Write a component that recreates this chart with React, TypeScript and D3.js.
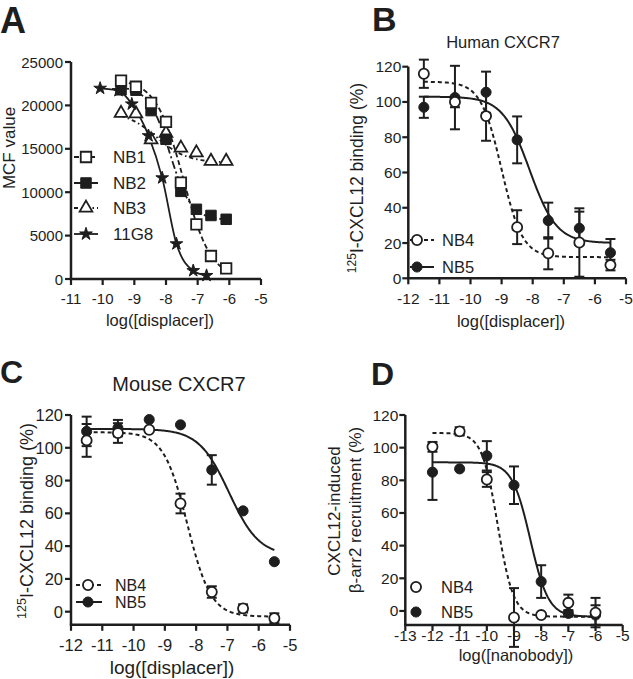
import React from 'react';
import * as d3 from 'd3';

const FONT = "'Liberation Sans', Arial, Helvetica, sans-serif";
const INK = '#1e1e1e';

// ---------------- Panel A data ----------------
const A_X_TICKS = [-11, -10, -9, -8, -7, -6, -5];
const A_Y_TICKS = [0, 5000, 10000, 15000, 20000, 25000];
const A_DOSE = [-9.42, -8.95, -8.47, -8.0, -7.53, -7.04, -6.58, -6.1];
const A_NB1 = [22850, 22150, 20300, 18100, 11100, 6300, 2650, 1220];
const A_NB2 = [21800, 21750, 19400, 16100, 10100, 8030, 7320, 6880];
const A_NB3 = [19100, 19050, 16050, 16800, 15100, 14550, 13580, 13580];
const A_DOSE_11G8 = [-10.08, -9.5, -9.08, -8.55, -8.12, -7.67, -7.14, -6.72];
const A_11G8 = [21970, 21700, 20160, 16500, 11650, 4050, 960, 400];
// fitted curve parameters: top, bottom, logIC50, hill
const A_FIT_NB1 = [23000, 0, -7.45, 1.0];
const A_FIT_NB2 = [22200, 6800, -7.88, 1.3];
const A_FIT_NB3 = [19300, 13400, -8.3, 0.9];
const A_LEGEND = ['NB1', 'NB2', 'NB3', '11G8'];

// ---------------- Panel B data ----------------
const B_X_TICKS = [-12, -11, -10, -9, -8, -7, -6, -5];
const B_Y_TICKS = [0, 20, 40, 60, 80, 100, 120];
const B_DOSE = [-11.5, -10.5, -9.5, -8.5, -7.5, -6.5, -5.5];
const B_NB4 = [116, 100, 92, 29, 14.2, 20.3, 7.5];
const B_NB4_ERR = [8, 3, 14, 9.6, 9.1, 19.4, 3];
const B_NB5 = [97, 102.5, 105.5, 78.5, 32.7, 28.4, 14.5];
const B_NB5_ERR = [6, 18, 11.7, 13.3, 10.2, 9.4, 7.8];
const B_FIT_NB4 = [111.5, 12, -9.0, 1.3];
const B_FIT_NB5 = [103, 20, -8.1, 1.0];

// ---------------- Panel C data ----------------
const C_X_TICKS = [-12, -11, -10, -9, -8, -7, -6, -5];
const C_Y_TICKS = [0, 20, 40, 60, 80, 100, 120];
const C_DOSE = [-11.5, -10.5, -9.5, -8.5, -7.5, -6.5, -5.5];
const C_NB4 = [104.5, 109, 111, 66, 12, 2, -4];
const C_NB4_ERR = [10, 6, 0, 6, 3.5, 2.5, 3];
const C_NB5 = [110, 112, 117.2, 114, 86.5, 61.5, 30.5];
const C_NB5_ERR = [9, 5, 0, 0, 9, 0, 0];
const C_FIT_NB4 = [109.5, -3, -8.28, 1.15];
const C_FIT_NB5 = [111.5, 34, -6.95, 0.9];

// ---------------- Panel D data ----------------
const D_X_TICKS = [-13, -12, -11, -10, -9, -8, -7, -6, -5];
const D_Y_TICKS = [0, 20, 40, 60, 80, 100, 120];
const D_DOSE = [-12, -11, -10, -9, -8, -7, -6];
const D_NB4 = [100.5, 110, 80.5, -4, -2.5, 5, -1];
const D_NB4_ERR = [3, 2.5, 4.5, 18, 1, 5, 9];
const D_NB5 = [85, 87, 95, 77, 18, -1.5, -2.5];
const D_NB5_ERR = [17, 0, 9, 11.5, 10, 2, 6];
const D_FIT_NB4 = [109, -3.5, -9.6, 1.5];
const D_FIT_NB5 = [91, -3.5, -8.4, 1.3];

function sigmoid(p: number[], x: number) {
  const [top, bottom, ic50, hill] = p;
  return bottom + (top - bottom) / (1 + Math.pow(10, (x - ic50) * hill));
}

function fitPath(xs: any, ys: any, p: number[], x0: number, x1: number) {
  const n = 200;
  const pts = d3.range(n + 1).map((i) => {
    const v = x0 + ((x1 - x0) * i) / n;
    return [v, sigmoid(p, v)] as [number, number];
  });
  return d3.line<[number, number]>().x((d) => xs(d[0])).y((d) => ys(d[1]))(pts) || '';
}

const SYMS: Record<string, any> = {
  sqOpen: d3.symbol().type(d3.symbolSquare).size(110)(),
  sqFill: d3.symbol().type(d3.symbolSquare).size(110)(),
  triOpen: d3.symbol().type(d3.symbolTriangle).size(70)(),
  star: d3.symbol().type(d3.symbolStar).size(50)(),
  circOpen: d3.symbol().type(d3.symbolCircle).size(80)(),
  circFill: d3.symbol().type(d3.symbolCircle).size(80)(),
};

function Marker({ kind, x, y }: { kind: string; x: number; y: number }) {
  const open = kind.endsWith('Open');
  return (
    <path
      d={SYMS[kind]}
      transform={`translate(${x},${y})`}
      fill={open ? '#fff' : INK}
      stroke={INK}
      strokeWidth={open ? 1.8 : 1}
    />
  );
}

function Axes({ xs, ys, xTicks, yTicks, fs, xLabY, yLabGap }: any) {
  const [x0, x1] = xs.range();
  const [yb, yt] = ys.range();
  return (
    <g stroke={INK} fill="none">
      <line x1={x0} x2={x0} y1={yb} y2={yt} strokeWidth={2.5} />
      <line x1={x0 - 1.2} x2={x1} y1={yb} y2={yb} strokeWidth={2.5} />
      {xTicks.map((t: number) => (
        <g key={'x' + t}>
          <line x1={xs(t)} x2={xs(t)} y1={yb} y2={yb + 6} strokeWidth={2.2} />
          <text x={xs(t)} y={xLabY} textAnchor="middle" dominantBaseline="central" fill={INK} stroke="none" fontSize={fs} fontFamily={FONT}>
            {t}
          </text>
        </g>
      ))}
      {yTicks.map((t: number) => (
        <g key={'y' + t}>
          <line x1={x0 - 6} x2={x0} y1={ys(t)} y2={ys(t)} strokeWidth={2.2} />
          <text x={x0 - yLabGap} y={ys(t)} textAnchor="end" dominantBaseline="central" fill={INK} stroke="none" fontSize={fs} fontFamily={FONT}>
            {t}
          </text>
        </g>
      ))}
    </g>
  );
}

function ErrBars({ xs, ys, dose, vals, errs }: any) {
  return (
    <g stroke={INK} strokeWidth={2}>
      {dose.map((d: number, i: number) =>
        errs[i] > 0 ? (
          <g key={i}>
            <line x1={xs(d)} x2={xs(d)} y1={ys(vals[i] - errs[i])} y2={ys(vals[i] + errs[i])} />
            <line x1={xs(d) - 5} x2={xs(d) + 5} y1={ys(vals[i] - errs[i])} y2={ys(vals[i] - errs[i])} />
            <line x1={xs(d) - 5} x2={xs(d) + 5} y1={ys(vals[i] + errs[i])} y2={ys(vals[i] + errs[i])} />
          </g>
        ) : null
      )}
    </g>
  );
}

function Points({ xs, ys, dose, vals, kind }: any) {
  return (
    <g>
      {dose.map((d: number, i: number) => (
        <Marker key={i} kind={kind} x={xs(d)} y={ys(vals[i])} />
      ))}
    </g>
  );
}

function RotLabel({ cx, cy, fs, children }: any) {
  return (
    <text transform={`translate(${cx + 0.35 * fs},${cy}) rotate(-90)`} textAnchor="middle" fontSize={fs} fontFamily={FONT} fill={INK}>
      {children}
    </text>
  );
}

function Txt({ x, y, fs, children, anchor = 'middle', bold = false }: any) {
  return (
    <text x={x} y={y} textAnchor={anchor} dominantBaseline="central" fontSize={fs} fontFamily={FONT} fontWeight={bold ? 'bold' : 'normal'} fill={INK}>
      {children}
    </text>
  );
}

function PanelA() {
  const xs = d3.scaleLinear().domain([-11, -5]).range([71, 261]);
  const ys = d3.scaleLinear().domain([0, 25000]).range([279, 62]);
  const styles = [
    { kind: 'sqOpen', dash: '5,3' },
    { kind: 'sqFill', dash: '8,3,2,3' },
    { kind: 'triOpen', dash: '4,3,1.5,3' },
    { kind: 'star', dash: '' },
  ];
  const line11 = d3
    .line<number>()
    .x((_, i) => xs(A_DOSE_11G8[i]))
    .y((v) => ys(v))
    .curve(d3.curveMonotoneX)(A_11G8);
  const legY = [157, 183, 208, 234];
  return (
    <g>
      <text x={0} y={33} fontSize={36} fontWeight="bold" fontFamily={FONT} fill={INK}>A</text>
      <Axes xs={xs} ys={ys} xTicks={A_X_TICKS} yTicks={A_Y_TICKS} fs={15} xLabY={298} yLabGap={8} />
      <RotLabel cx={9} cy={148} fs={17}>MCF value</RotLabel>
      <Txt x={160} y={320} fs={16.5}>log([displacer])</Txt>
      <g fill="none" stroke={INK} strokeWidth={1.8}>
        <path d={fitPath(xs, ys, A_FIT_NB1, A_DOSE[0], A_DOSE[7])} strokeDasharray={styles[0].dash} />
        <path d={fitPath(xs, ys, A_FIT_NB2, A_DOSE[0], A_DOSE[7])} strokeDasharray={styles[1].dash} />
        <path d={fitPath(xs, ys, A_FIT_NB3, A_DOSE[0], A_DOSE[7])} strokeDasharray={styles[2].dash} />
        <path d={line11 || ''} />
      </g>
      <Points xs={xs} ys={ys} dose={A_DOSE} vals={A_NB3} kind="triOpen" />
      <Points xs={xs} ys={ys} dose={A_DOSE_11G8} vals={A_11G8} kind="star" />
      <Points xs={xs} ys={ys} dose={A_DOSE} vals={A_NB2} kind="sqFill" />
      <Points xs={xs} ys={ys} dose={A_DOSE} vals={A_NB1} kind="sqOpen" />
      {A_LEGEND.map((name, i) => (
        <g key={name}>
          <line x1={74} x2={98} y1={legY[i]} y2={legY[i]} stroke={INK} strokeWidth={1.8} strokeDasharray={styles[i].dash} />
          <Marker kind={styles[i].kind} x={86} y={legY[i]} />
          <Txt x={113} y={legY[i]} fs={17} anchor="start">{name}</Txt>
        </g>
      ))}
    </g>
  );
}

function TwoSeriesPanel({ xs, ys, dose, nb4, nb4e, nb5, nb5e, fit4, fit5, x0, x1, legend, legLines, fsLeg }: any) {
  return (
    <g>
      <ErrBars xs={xs} ys={ys} dose={dose} vals={nb4} errs={nb4e} />
      <ErrBars xs={xs} ys={ys} dose={dose} vals={nb5} errs={nb5e} />
      <g fill="none" stroke={INK} strokeWidth={2}>
        <path d={fitPath(xs, ys, fit4, x0, x1)} strokeDasharray="4,3" />
        <path d={fitPath(xs, ys, fit5, x0, x1)} />
      </g>
      <Points xs={xs} ys={ys} dose={dose} vals={nb5} kind="circFill" />
      <Points xs={xs} ys={ys} dose={dose} vals={nb4} kind="circOpen" />
      <g>
        {legLines && (
          <g stroke={INK} strokeWidth={2}>
            <line x1={legend.lx0} x2={legend.lx1} y1={legend.y4} y2={legend.y4} strokeDasharray="4,3" />
            <line x1={legend.lx0} x2={legend.lx1} y1={legend.y5} y2={legend.y5} />
          </g>
        )}
        <Marker kind="circOpen" x={legend.mx} y={legend.y4} />
        <Marker kind="circFill" x={legend.mx} y={legend.y5} />
        <Txt x={legend.tx} y={legend.y4} fs={fsLeg} anchor="start">NB4</Txt>
        <Txt x={legend.tx} y={legend.y5} fs={fsLeg} anchor="start">NB5</Txt>
      </g>
    </g>
  );
}

function PanelB() {
  const xs = d3.scaleLinear().domain([-12, -5]).range([408.3, 626]);
  const ys = d3.scaleLinear().domain([0, 120]).range([278.3, 66.7]);
  return (
    <g>
      <text x={372} y={31} fontSize={34} fontWeight="bold" fontFamily={FONT} fill={INK}>B</text>
      <Txt x={503} y={42} fs={16.5}>Human CXCR7</Txt>
      <Axes xs={xs} ys={ys} xTicks={B_X_TICKS} yTicks={B_Y_TICKS} fs={15.5} xLabY={298} yLabGap={7} />
      <RotLabel cx={357} cy={178} fs={17.5}>
        <tspan fontSize={12} dy={-7}>125</tspan>
        <tspan dy={7}>I-CXCL12 binding (%)</tspan>
      </RotLabel>
      <Txt x={511} y={321} fs={16.5}>log([displacer])</Txt>
      <TwoSeriesPanel
        xs={xs} ys={ys} dose={B_DOSE} nb4={B_NB4} nb4e={B_NB4_ERR} nb5={B_NB5} nb5e={B_NB5_ERR}
        fit4={B_FIT_NB4} fit5={B_FIT_NB5} x0={-11.5} x1={-5.5}
        legend={{ lx0: 410, lx1: 434, mx: 417, tx: 442, y4: 240, y5: 267 }} legLines fsLeg={16.5}
      />
    </g>
  );
}

function PanelC() {
  const xs = d3.scaleLinear().domain([-12, -5]).range([71, 290]);
  const ys = d3.scaleLinear().domain([-8, 120]).range([624.8, 415]);
  return (
    <g>
      <text x={0} y={383} fontSize={32} fontWeight="bold" fontFamily={FONT} fill={INK}>C</text>
      <Txt x={179} y={384} fs={20}>Mouse CXCR7</Txt>
      <Axes xs={xs} ys={ys} xTicks={C_X_TICKS} yTicks={C_Y_TICKS} fs={16.5} xLabY={645} yLabGap={8} />
      <RotLabel cx={27} cy={521} fs={18}>
        <tspan fontSize={12.5} dy={-7}>125</tspan>
        <tspan dy={7}>I-CXCL12 binding (%)</tspan>
      </RotLabel>
      <Txt x={172} y={667} fs={19}>log([displacer])</Txt>
      <TwoSeriesPanel
        xs={xs} ys={ys} dose={C_DOSE} nb4={C_NB4} nb4e={C_NB4_ERR} nb5={C_NB5} nb5e={C_NB5_ERR}
        fit4={C_FIT_NB4} fit5={C_FIT_NB5} x0={-11.5} x1={-5.5}
        legend={{ lx0: 76, lx1: 102, mx: 88, tx: 115, y4: 585, y5: 602 }} legLines fsLeg={16}
      />
    </g>
  );
}

function PanelD() {
  const xs = d3.scaleLinear().domain([-13, -5]).range([405.3, 622.7]);
  const ys = d3.scaleLinear().domain([-8.6, 120]).range([625, 415]);
  return (
    <g>
      <text x={371} y={385} fontSize={32} fontWeight="bold" fontFamily={FONT} fill={INK}>D</text>
      <Axes xs={xs} ys={ys} xTicks={D_X_TICKS} yTicks={D_Y_TICKS} fs={15.5} xLabY={635} yLabGap={7} />
      <RotLabel cx={334} cy={511} fs={17}>CXCL12-induced</RotLabel>
      <RotLabel cx={355} cy={510} fs={17}>β-arr2 recruitment (%)</RotLabel>
      <Txt x={516} y={655} fs={16.5}>log([nanobody])</Txt>
      <TwoSeriesPanel
        xs={xs} ys={ys} dose={D_DOSE} nb4={D_NB4} nb4e={D_NB4_ERR} nb5={D_NB5} nb5e={D_NB5_ERR}
        fit4={D_FIT_NB4} fit5={D_FIT_NB5} x0={-12} x1={-6}
        legend={{ lx0: 0, lx1: 0, mx: 416, tx: 441, y4: 587, y5: 612 }} legLines={false} fsLeg={16.5}
      />
    </g>
  );
}

export default function App() {
  return (
    <svg width={633} height={679} viewBox="0 0 633 679" style={{ position: 'absolute', left: 0, top: 0, background: '#fff' }}>
      <rect width={633} height={679} fill="#fff" />
      <PanelA />
      <PanelB />
      <PanelC />
      <PanelD />
    </svg>
  );
}
